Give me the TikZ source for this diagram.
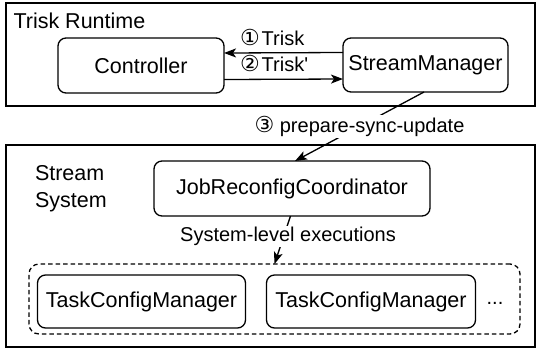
\documentclass[tikz,border=0pt]{standalone}
\usepackage{fontspec}
\setmainfont{Liberation Sans}
\newfontfamily\lsans{Liberation Sans}
\newfontfamily\dvs{DejaVu Sans}
\newcommand{\circd}[1]{{\dvs\fontsize{22bp}{24bp}\selectfont #1}}
\usetikzlibrary{arrows.meta}
\begin{document}
\begin{tikzpicture}[x=1bp,y=-1bp,
  every node/.style={inner sep=0pt, outer sep=0pt},
  frame/.style={draw=black, line width=1.4bp},
  comp/.style={draw=black, line width=1.3bp, rounded corners=8bp, align=center,
    font=\lsans\fontsize{21.5bp}{26bp}\selectfont},
  group/.style={draw=black, line width=1.3bp, rounded corners=10bp, dash pattern=on 4.5bp off 3bp},
  lbl/.style={font=\lsans\fontsize{20bp}{24bp}\selectfont},
  conn/.style={draw=black, line width=1.3bp, -{Stealth[length=12bp,width=9bp,inset=3bp]}}
]
\useasboundingbox (0,0) rectangle (536,350);
% frames
\draw[frame] (6,3) rectangle (535,106);
\draw[frame] (6,145) rectangle (535,347);
\node[anchor=west, font=\lsans\fontsize{21.5bp}{26bp}\selectfont] (rt) at (13.5,21) {Trisk Runtime};
\node[anchor=west, align=left, font=\lsans\fontsize{21.5bp}{27bp}\selectfont] (ss) at (35,188.5) {Stream\\System};
% components
\node[comp, minimum width=166bp, minimum height=55bp] (ctrl) at (141,65.5) {Controller};
\node[comp, minimum width=165bp, minimum height=54bp] (sm) at (425.5,65) {StreamManager};
\node[comp, minimum width=276bp, minimum height=55bp] (jrc) at (292,188.5) {JobReconfigCoordinator};
\node[group, minimum width=491bp, minimum height=70bp] (grp) at (274.5,299) {};
\node[comp, minimum width=208bp, minimum height=53bp] (tcm1) at (141.5,301.5) {TaskConfigManager};
\node[comp, minimum width=209bp, minimum height=53bp] (tcm2) at (371,301.5) {TaskConfigManager};
\node[lbl] (dots) at (495,303) {...};
% connectors
\draw[conn] ([yshift=12.5bp]sm.west) -- ([yshift=12.5bp]ctrl.east);
\draw[conn] ([yshift=-14bp]ctrl.east) -- ([yshift=-14bp]sm.west);
\node[lbl, anchor=west] (l1) at (240,37) {\circd{①}\kern2bp Trisk};
\node[lbl, anchor=west] (l2) at (240,63) {\circd{②}\kern2bp Trisk'};
\draw[conn] ([xshift=-1.5bp]sm.south) -- ([xshift=3bp]jrc.north)
  node[lbl, midway, fill=white, inner sep=1.5bp] (l3) {\circd{③} prepare-sync-update};
\draw[conn] ([xshift=-1.5bp]jrc.south) -- (grp.north);
\node[lbl, fill=white, inner sep=1.5bp] (l4) at (288,236.5) {System-level executions};
\end{tikzpicture}
\end{document}
